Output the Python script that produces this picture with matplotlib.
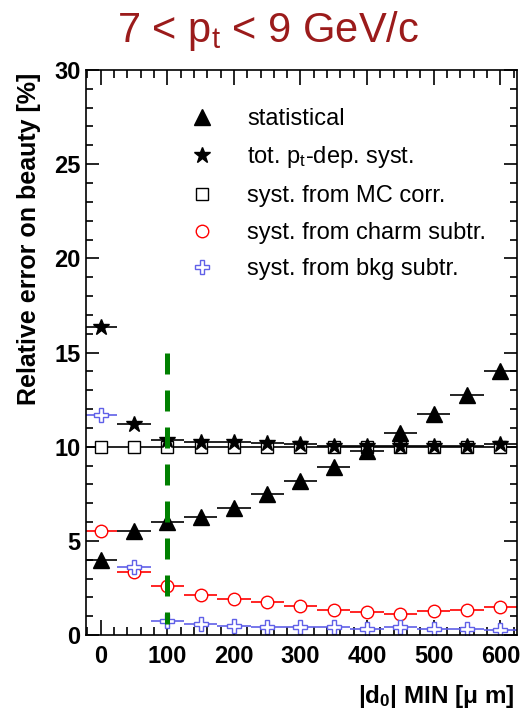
import matplotlib
matplotlib.use('Agg')
import matplotlib.pyplot as plt
from matplotlib.ticker import MultipleLocator

plt.rcParams['font.family'] = ['Liberation Sans', 'DejaVu Sans']
plt.rcParams['mathtext.default'] = 'regular'

# data
d0_min = [0, 50, 100, 150, 200, 250, 300, 350, 400, 450, 500, 550, 600]
half_bin = 25
statistical = [4.0, 5.5, 6.0, 6.25, 6.75, 7.5, 8.2, 8.9, 9.75, 10.75, 11.75, 12.75, 14.0]
tot_syst = [16.35, 11.2, 10.35, 10.25, 10.25, 10.2, 10.15, 10.05, 10.05, 10.05, 10.05, 10.05, 10.15]
mc_corr = [10.0, 10.0, 10.0, 10.0, 10.0, 10.0, 10.0, 10.0, 10.0, 10.0, 10.0, 10.0, 10.0]
charm = [5.5, 3.35, 2.6, 2.1, 1.9, 1.75, 1.55, 1.35, 1.2, 1.1, 1.25, 1.35, 1.5]
bkg = [11.7, 3.6, 0.75, 0.6, 0.5, 0.4, 0.4, 0.4, 0.3, 0.4, 0.3, 0.3, 0.25]
cut_d0 = 100
cut_range = [15.0, 0.6]

labels = ['statistical', 'tot. p$_t$-dep. syst.', 'syst. from MC corr.',
          'syst. from charm subtr.', 'syst. from bkg subtr.']

fig = plt.figure(figsize=(5.2, 7.12), dpi=100)
ax = fig.add_axes([0.1654, 0.1081, 0.8288, 0.7936])

# values, marker, colour, size, face colour
series = [
    (mc_corr, 's', 'black', 8.5, 'white'),
    (charm, 'o', '#ff0000', 9, 'white'),
    (bkg, 'P', '#6060e8', 9.5, 'white'),
    (tot_syst, '*', 'black', 12, 'black'),
    (statistical, '^', 'black', 11.5, 'black'),
]
handles = {}
for vals, mk, col, ms, fc in series:
    ax.errorbar(d0_min, vals, xerr=half_bin, fmt='none', ecolor=col, elinewidth=1.2, capsize=0)
    h, = ax.plot(d0_min, vals, linestyle='', marker=mk, color=col, markersize=ms,
                 markerfacecolor=fc, markeredgecolor=col, markeredgewidth=1.0)
    handles[mk] = h

ax.plot([cut_d0, cut_d0], cut_range, color='#008000', linewidth=3.6, dashes=(4.2, 3.2))

ax.set_xlim(-22, 625)
ax.set_ylim(0, 30)
ax.xaxis.set_major_locator(MultipleLocator(100))
ax.xaxis.set_minor_locator(MultipleLocator(20))
ax.yaxis.set_major_locator(MultipleLocator(5))
ax.yaxis.set_minor_locator(MultipleLocator(1))
ax.tick_params(which='both', direction='in', top=True, right=True, width=1.2, labelsize=17)
ax.tick_params(axis='x', which='major', length=11, pad=7)
ax.tick_params(axis='x', which='minor', length=6)
ax.tick_params(axis='y', which='major', length=9.5, pad=4)
ax.tick_params(axis='y', which='minor', length=5)
for lab in ax.get_xticklabels() + ax.get_yticklabels():
    lab.set_fontweight('bold')
for sp in ax.spines.values():
    sp.set_linewidth(1.2)

leg_h = [handles['^'], handles['*'], handles['s'], handles['o'], handles['P']]
ax.legend(leg_h, labels, loc='upper left', bbox_to_anchor=(0.248, 0.933), frameon=False,
          fontsize=17, handlelength=0.8, handletextpad=1.5, labelspacing=0.62,
          borderpad=0, borderaxespad=0)

fig.text(0.056, 0.8975, 'Relative error on beauty [%]', rotation=90, ha='center', va='top',
         fontsize=18, fontweight='bold')
fig.text(0.99, 1 - 697 / 712, '|d$_0$| MIN [\u03bc m]', ha='right', va='center',
         fontsize=17.5, fontweight='bold')
fig.text(0.515, 1 - 42 / 712, '7 < p$_t$ < 9 GeV/c', ha='center', va='baseline',
         fontsize=30, color='#9b1b1b')

fig.savefig('out.png', dpi=100)
